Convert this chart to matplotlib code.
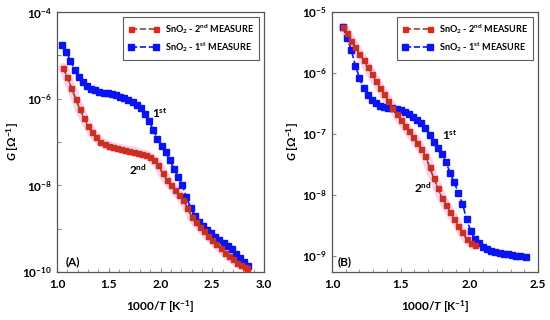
import numpy as np
import matplotlib
matplotlib.use("Agg")
import matplotlib.pyplot as plt

plt.rcParams['font.family'] = ['Lato', 'DejaVu Sans']
plt.rcParams['font.weight'] = 'bold'
plt.rcParams['mathtext.fontset'] = 'custom'
plt.rcParams['mathtext.rm'] = 'Lato'
plt.rcParams['mathtext.bf'] = 'Lato:bold'
plt.rcParams['mathtext.it'] = 'Lato:italic'
plt.rcParams['mathtext.bfit'] = 'Lato:italic:bold'

# ---- Panel A data (x = 1000/T, log10 G) ----
xA_1st = [1.05, 1.09, 1.13, 1.17, 1.21, 1.25, 1.29, 1.33, 1.37, 1.41, 1.45, 1.49, 1.53, 1.57,
          1.61, 1.65, 1.69, 1.73, 1.77, 1.81, 1.85, 1.89, 1.93, 1.97, 2.01, 2.05, 2.09, 2.13,
          2.17, 2.21, 2.25, 2.29, 2.33, 2.37, 2.41, 2.45, 2.49, 2.53, 2.57, 2.61, 2.65, 2.69,
          2.73, 2.77, 2.81, 2.85]
lgA_1st = [-4.76, -4.92, -5.12, -5.34, -5.49, -5.62, -5.71, -5.77, -5.81, -5.84, -5.86, -5.87,
           -5.89, -5.92, -5.95, -5.98, -6.02, -6.07, -6.14, -6.22, -6.35, -6.52, -6.72, -6.92,
           -7.10, -7.24, -7.42, -7.62, -7.80, -7.99, -8.27, -8.52, -8.70, -8.85, -8.93, -9.02,
           -9.10, -9.19, -9.27, -9.33, -9.40, -9.47, -9.58, -9.68, -9.77, -9.86]
xA_2nd = [1.06, 1.10, 1.14, 1.18, 1.22, 1.26, 1.30, 1.34, 1.38, 1.42, 1.46, 1.50, 1.54, 1.58,
          1.62, 1.66, 1.70, 1.74, 1.78, 1.82, 1.86, 1.90, 1.94, 1.98, 2.02, 2.06, 2.10, 2.14,
          2.18, 2.22, 2.26, 2.30, 2.34, 2.38, 2.42, 2.46, 2.50, 2.54, 2.58, 2.62, 2.66, 2.70,
          2.74, 2.78, 2.82, 2.84]
lgA_2nd = [-5.29, -5.51, -5.75, -6.00, -6.24, -6.45, -6.63, -6.78, -6.89, -6.99, -7.05, -7.09,
           -7.12, -7.14, -7.16, -7.18, -7.20, -7.22, -7.25, -7.28, -7.31, -7.35, -7.42, -7.54,
           -7.72, -7.87, -7.99, -8.10, -8.22, -8.34, -8.52, -8.72, -8.85, -8.96, -9.06, -9.17,
           -9.26, -9.36, -9.45, -9.55, -9.64, -9.71, -9.79, -9.85, -9.88, -9.90]

# ---- Panel B data ----
xB_1st = [1.08, 1.11, 1.14, 1.17, 1.20, 1.23, 1.26, 1.29, 1.32, 1.35, 1.38, 1.41, 1.44, 1.47,
          1.50, 1.53, 1.56, 1.59, 1.62, 1.65, 1.68, 1.71, 1.74, 1.77, 1.80, 1.83, 1.86, 1.89,
          1.92, 1.95, 1.98, 2.01, 2.04, 2.07, 2.10, 2.13, 2.16, 2.19, 2.22, 2.25, 2.28, 2.31,
          2.34, 2.37, 2.41]
lgB_1st = [-5.25, -5.43, -5.62, -5.88, -6.08, -6.25, -6.36, -6.44, -6.50, -6.54, -6.56, -6.57,
           -6.58, -6.59, -6.61, -6.64, -6.68, -6.72, -6.77, -6.83, -6.90, -7.02, -7.13, -7.24,
           -7.33, -7.47, -7.64, -7.80, -7.97, -8.15, -8.40, -8.60, -8.73, -8.80, -8.86, -8.89,
           -8.92, -8.94, -8.96, -8.97, -8.98, -8.99, -9.00, -9.01, -9.02]
xB_2nd = [1.08, 1.11, 1.14, 1.17, 1.20, 1.23, 1.26, 1.29, 1.32, 1.35, 1.38, 1.41, 1.44, 1.47,
          1.50, 1.53, 1.56, 1.59, 1.62, 1.65, 1.68, 1.71, 1.74, 1.77, 1.80, 1.83, 1.86, 1.89,
          1.92, 1.95, 1.98, 2.01, 2.04]
lgB_2nd = [-5.25, -5.35, -5.47, -5.58, -5.69, -5.79, -5.91, -6.02, -6.13, -6.24, -6.35, -6.46,
           -6.57, -6.67, -6.77, -6.87, -6.96, -7.05, -7.15, -7.25, -7.36, -7.55, -7.72, -7.89,
           -8.05, -8.17, -8.29, -8.40, -8.51, -8.62, -8.73, -8.79, -8.83]

label_2nd = r'SnO$_\mathbf{2}$ - 2$^\mathbf{nd}$ MEASURE'
label_1st = r'SnO$_\mathbf{2}$ - 1$^\mathbf{st}$ MEASURE'

RED_LINE = '#8E4A22'
RED_MK = '#E3261C'
OLIVE = '#6E5A28'
BLUE = '#0A14F0'
PINK = '#FFC4EC'

fig = plt.figure(figsize=(5.5, 3.2), dpi=100)
axA = fig.add_axes([57/550, 1-272/320, 207/550, 260/320])
axB = fig.add_axes([332/550, 1-272/320, 206/550, 260/320])


def draw(ax, x1, lg1, x2, lg2):
    y1 = 10.0 ** np.array(lg1)
    y2 = 10.0 ** np.array(lg2)
    ax.plot(x2, y2, color=PINK, lw=7, alpha=0.8, zorder=1, solid_capstyle='round')
    h2, = ax.plot(x2, y2, color=RED_LINE, ls='--', lw=1.2, marker='s', ms=3.6,
                  mfc=RED_MK, mec=RED_MK, zorder=3, label=label_2nd)
    ax.plot(x2, y2, color=OLIVE, ls='-', lw=0.8, zorder=4)
    h1, = ax.plot(x1, y1, color=BLUE, ls='--', lw=1.2, marker='s', ms=3.8,
                  mfc=BLUE, mec=BLUE, zorder=2, label=label_1st)
    ax.set_yscale('log')
    leg = ax.legend(handles=[h2, h1], loc='upper right', frameon=True,
                    fancybox=False, edgecolor='#333333', handlelength=3.3, numpoints=2,
                    borderpad=0.6, labelspacing=0.45, handletextpad=0.7,
                    prop={'weight': 'bold', 'size': 6.6})
    leg.get_frame().set_linewidth(0.8)
    for s in ax.spines.values():
        s.set_color('#555555')
        s.set_linewidth(0.9)
    ax.tick_params(axis='both', which='both', direction='in', colors='#888888',
                   labelcolor='black', labelsize=8.5)
    ax.tick_params(axis='x', which='major', pad=5)
    ax.tick_params(which='major', length=3)
    ax.tick_params(which='minor', length=2)
    ax.set_xlabel(r'1000/$\mathbfit{T}$ [K$^\mathbf{-1}$]', fontsize=8.5, fontweight='bold', labelpad=6)
    ax.set_ylabel(r'$\mathbfit{G}$ [$\mathbf{\Omega^{-1}}$]', fontsize=8.5, fontweight='bold', labelpad=1)


draw(axA, xA_1st, lgA_1st, xA_2nd, lgA_2nd)
axA.set_xlim(1.0, 3.0)
axA.set_ylim(1e-10, 1e-4)
axA.set_xticks([1.0, 1.5, 2.0, 2.5, 3.0])
axA.set_xticklabels(['1.0', '1.5', '2.0', '2.5', '3.0'], fontweight='bold')
axA.set_xticks(np.arange(1.0, 3.0, 0.1), minor=True)
axA.set_yticks([1e-10, 1e-9, 1e-8, 1e-7, 1e-6, 1e-5, 1e-4])
axA.set_yticklabels([r'$\mathbf{10^{-10}}$', '', r'$\mathbf{10^{-8}}$', '',
                     r'$\mathbf{10^{-6}}$', '', r'$\mathbf{10^{-4}}$'])
axA.yaxis.set_minor_locator(matplotlib.ticker.NullLocator())
axA.text(1.08, 10**-9.84, '(A)', fontsize=8.5, fontweight='bold')
axA.text(1.92, 10**-6.45, r'1$^\mathbf{st}$', fontsize=8.5, fontweight='bold')
axA.text(1.70, 10**-7.76, r'2$^\mathbf{nd}$', fontsize=8.5, fontweight='bold')

draw(axB, xB_1st, lgB_1st, xB_2nd, lgB_2nd)
axB.set_xlim(1.0, 2.5)
axB.set_ylim(10**-9.27, 1e-5)
axB.set_xticks([1.0, 1.5, 2.0, 2.5])
axB.set_xticklabels(['1.0', '1.5', '2.0', '2.5'], fontweight='bold')
axB.set_xticks(np.arange(1.0, 2.5, 0.1), minor=True)
axB.set_yticks([1e-9, 1e-8, 1e-7, 1e-6, 1e-5])
axB.set_yticklabels([r'$\mathbf{10^{-9}}$', r'$\mathbf{10^{-8}}$', r'$\mathbf{10^{-7}}$',
                     r'$\mathbf{10^{-6}}$', r'$\mathbf{10^{-5}}$'])
axB.yaxis.set_minor_locator(matplotlib.ticker.NullLocator())
axB.text(1.04, 10**-9.15, '(B)', fontsize=8.5, fontweight='bold')
axB.text(1.80, 10**-7.10, r'1$^\mathbf{st}$', fontsize=8.5, fontweight='bold')
axB.text(1.60, 10**-7.97, r'2$^\mathbf{nd}$', fontsize=8.5, fontweight='bold')

fig.savefig('out.png', dpi=100)
